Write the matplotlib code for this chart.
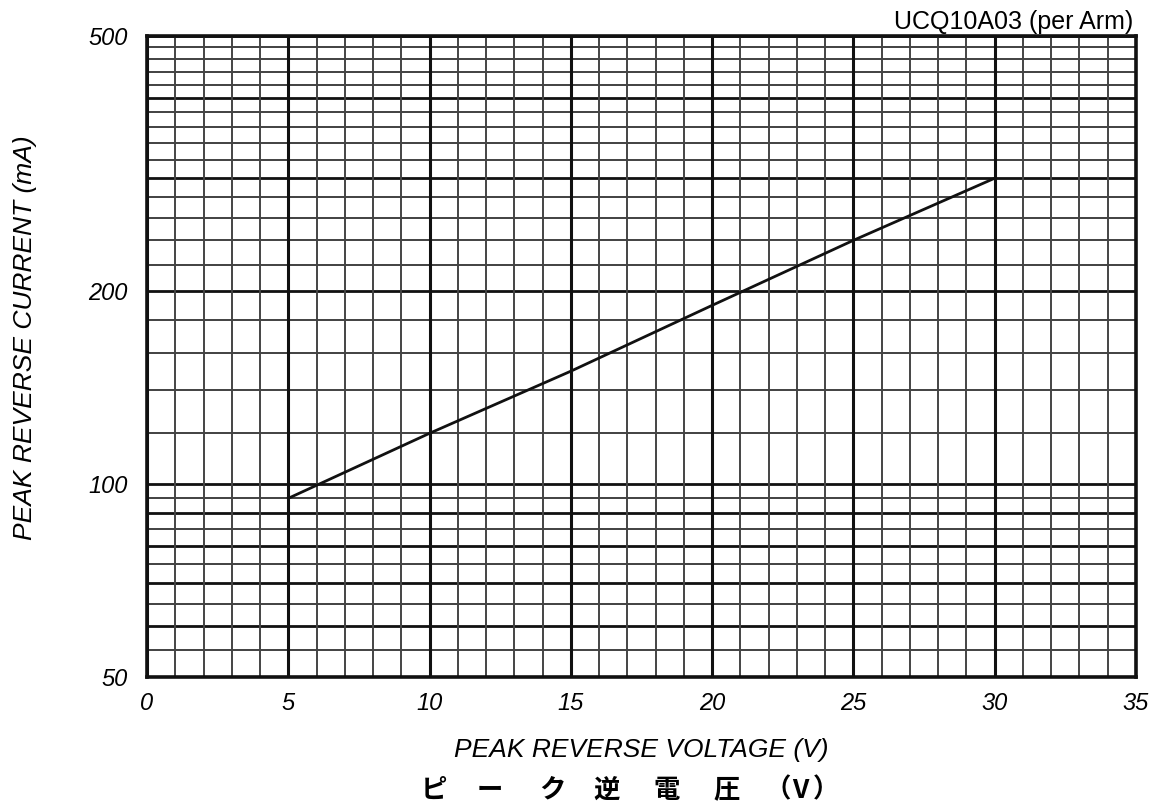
import numpy as np
import matplotlib
matplotlib.use("Agg")
import matplotlib.pyplot as plt
from matplotlib.ticker import FixedLocator, NullFormatter

plt.rcParams['font.family'] = ['Liberation Sans', 'DejaVu Sans']

# data
voltage = [5, 10, 15, 20, 25, 30]
current = [95, 120, 150, 190, 240, 300]

y_ticks = [50, 100, 200, 500]
y_major = [60, 70, 80, 90, 100, 200, 300, 400, 500]
y_minor = [55, 65, 75, 85, 95, 120, 140, 160, 180, 220, 240, 260, 280,
           320, 340, 360, 380, 420, 440, 460, 480]
x_ticks = list(range(0, 36, 5))
x_minor = [v for v in range(0, 36) if v % 5 != 0]

title = "UCQ10A03 (per Arm)"
xlabel = "PEAK REVERSE VOLTAGE (V)"
ylabel = "PEAK REVERSE CURRENT (mA)"
jp_chars = ["ピ", "ー", "ク", "逆", "電", "圧", "（", "V", "）"]

W, H = 1164, 808
fig = plt.figure(figsize=(W / 100, H / 100), dpi=100)
ax = fig.add_axes([147 / W, 1 - 677 / H, (1136 - 147) / W, (677 - 36) / H])

ax.set_yscale("log")
ax.set_xlim(0, 35)
ax.set_ylim(50, 500)

# grid lines (drawn as lines so major/minor weights can differ)
for y in y_minor:
    ax.axhline(y, color="#333333", lw=1.3, zorder=1)
for y in y_major:
    ax.axhline(y, color="#111111", lw=2.0, zorder=1)
for x in x_minor:
    ax.axvline(x, color="#444444", lw=1.4, zorder=1)
for x in x_ticks:
    ax.axvline(x, color="#111111", lw=2.2, zorder=1)

ax.plot(voltage, current, color="#111111", lw=2.0, zorder=3)

ax.yaxis.set_major_locator(FixedLocator(y_ticks))
ax.yaxis.set_minor_locator(FixedLocator([]))
ax.yaxis.set_minor_formatter(NullFormatter())
ax.set_yticklabels([str(v) for v in y_ticks])
ax.xaxis.set_major_locator(FixedLocator(x_ticks))
ax.set_xticklabels([str(v) for v in x_ticks])
ax.tick_params(axis="both", which="both", length=0, labelsize=17)
ax.tick_params(axis="y", pad=14)
ax.tick_params(axis="x", pad=11)
for lab in ax.get_xticklabels() + ax.get_yticklabels():
    lab.set_fontstyle("italic")

for s in ax.spines.values():
    s.set_linewidth(2.6)
    s.set_color("#111111")

fig.text(1133 / W, 1 - 22 / H, title, ha="right", va="center", fontsize=18)
fig.text(641 / W, 1 - 750 / H, xlabel, ha="center", va="center",
         fontsize=19, fontstyle="italic")
fig.text(25 / W, 1 - 338 / H, ylabel, ha="center", va="center",
         fontsize=19, fontstyle="italic", rotation=90)

# japanese caption with wide letter spacing
jp_x = [434, 490, 552, 607, 667, 727, 778, 800, 826]
for ch, xp in zip(jp_chars, jp_x):
    fig.text(xp / W, 1 - 790 / H, ch, ha="center", va="center", fontsize=19,
             fontweight="bold", family=["Noto Sans CJK JP", "DejaVu Sans"])

fig.savefig("out.png", dpi=100)
